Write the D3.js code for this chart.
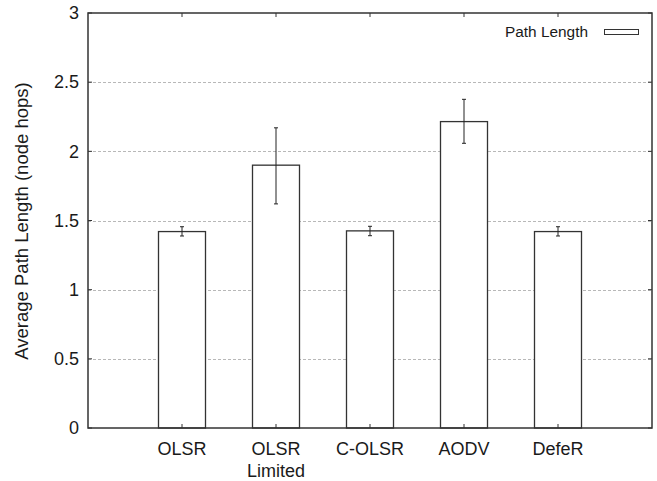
<!DOCTYPE html>
<html>
<head>
<meta charset="utf-8">
<script src="https://cdn.jsdelivr.net/npm/d3@7"></script>
<style>
  html, body { margin: 0; padding: 0; background: #fff; }
  svg { display: block; font-family: "Liberation Sans", Arial, Helvetica, sans-serif; }
</style>
</head>
<body>
<svg id="chart" width="657" height="481"></svg>
<script>
// Routing protocols compared (multi-line names split on "\n")
const categories = ["OLSR", "OLSR\nLimited", "C-OLSR", "AODV", "DefeR"];
// Mean path length in node hops
const pathLength = [1.42, 1.90, 1.425, 2.215, 1.42];
// Error bar extents (lower / upper)
const errLow  = [1.388, 1.62, 1.39, 2.058, 1.388];
const errHigh = [1.455, 2.17, 1.458, 2.376, 1.455];
// Y axis ticks
const yTicks = [0, 0.5, 1, 1.5, 2, 2.5, 3];
const yTickLabels = ["0", "0.5", "1", "1.5", "2", "2.5", "3"];
const seriesName = "Path Length";
const yTitle = "Average Path Length (node hops)";

const svg = d3.select("#chart");
const margin = { left: 88, right: 5, top: 13, bottom: 53 };
const W = 657, H = 481;
const plotL = margin.left, plotR = W - margin.right, plotT = margin.top, plotB = H - margin.bottom;

// categories sit at 1..5 on a 0..6 axis
const x = d3.scaleLinear().domain([0, categories.length + 1]).range([plotL, plotR]);
const y = d3.scaleLinear().domain([0, 3]).range([plotB, plotT]);
const barW = x(0.5) - x(0);

const ink = "#333";
const textInk = "#1a1a1a";

// dashed horizontal grid
svg.append("g").selectAll("line")
  .data(yTicks.filter(v => v > 0 && v < 3))
  .join("line")
  .attr("x1", plotL).attr("x2", plotR)
  .attr("y1", d => Math.round(y(d)) + 0.5).attr("y2", d => Math.round(y(d)) + 0.5)
  .attr("stroke", "#b8b8b8").attr("stroke-width", 1)
  .attr("stroke-dasharray", "3,2");

// bars
svg.append("g").selectAll("rect")
  .data(pathLength)
  .join("rect")
  .attr("x", (d, i) => x(i + 1) - barW / 2)
  .attr("y", d => y(d))
  .attr("width", barW)
  .attr("height", d => y(0) - y(d))
  .attr("fill", "#fff")
  .attr("stroke", ink).attr("stroke-width", 1.3);

// error bars
const eb = svg.append("g").attr("stroke", "#222").attr("stroke-width", 1);
pathLength.forEach((d, i) => {
  const cx = x(i + 1);
  eb.append("line").attr("x1", cx).attr("x2", cx).attr("y1", y(errLow[i])).attr("y2", y(errHigh[i]));
  [errLow[i], errHigh[i]].forEach(v => {
    eb.append("line").attr("x1", cx - 2).attr("x2", cx + 2).attr("y1", y(v)).attr("y2", y(v));
  });
});

// frame
svg.append("rect")
  .attr("x", plotL).attr("y", plotT)
  .attr("width", plotR - plotL).attr("height", plotB - plotT)
  .attr("fill", "none").attr("stroke", ink).attr("stroke-width", 1.5);

// mirror ticks: top at categories, right at y ticks
const ticks = svg.append("g").attr("stroke", ink).attr("stroke-width", 1);
categories.forEach((c, i) => {
  ticks.append("line").attr("x1", x(i + 1)).attr("x2", x(i + 1)).attr("y1", plotT).attr("y2", plotT + 4);
  ticks.append("line").attr("x1", x(i + 1)).attr("x2", x(i + 1)).attr("y1", plotB).attr("y2", plotB - 4);
});
yTicks.forEach(v => {
  ticks.append("line").attr("x1", plotR).attr("x2", plotR - 4).attr("y1", y(v)).attr("y2", y(v));
  ticks.append("line").attr("x1", plotL).attr("x2", plotL + 4).attr("y1", y(v)).attr("y2", y(v));
});

// y tick labels
svg.append("g").selectAll("text")
  .data(yTicks)
  .join("text")
  .attr("x", plotL - 9)
  .attr("y", d => y(d))
  .attr("dy", "0.35em")
  .attr("text-anchor", "end")
  .attr("font-size", 18)
  .attr("fill", textInk)
  .text((d, i) => yTickLabels[i]);

// x category labels
const xl = svg.append("g").attr("font-size", 18).attr("fill", textInk).attr("text-anchor", "middle");
categories.forEach((c, i) => {
  const t = xl.append("text").attr("x", x(i + 1)).attr("y", plotB + 27);
  c.split("\n").forEach((line, j) => {
    t.append("tspan").attr("x", x(i + 1)).attr("dy", j === 0 ? 0 : 21.5).text(line);
  });
});

// y axis title
svg.append("text")
  .attr("transform", `translate(28, 221) rotate(-90)`)
  .attr("text-anchor", "middle")
  .attr("font-size", 18.5)
  .attr("fill", textInk)
  .text(yTitle);

// legend
svg.append("text")
  .attr("x", 588).attr("y", 37)
  .attr("text-anchor", "end")
  .attr("font-size", 15.4)
  .attr("fill", textInk)
  .text(seriesName);
svg.append("rect")
  .attr("x", 604.5).attr("y", 29.5)
  .attr("width", 34).attr("height", 5)
  .attr("fill", "#fff").attr("stroke", ink).attr("stroke-width", 1);
</script>
</body>
</html>
